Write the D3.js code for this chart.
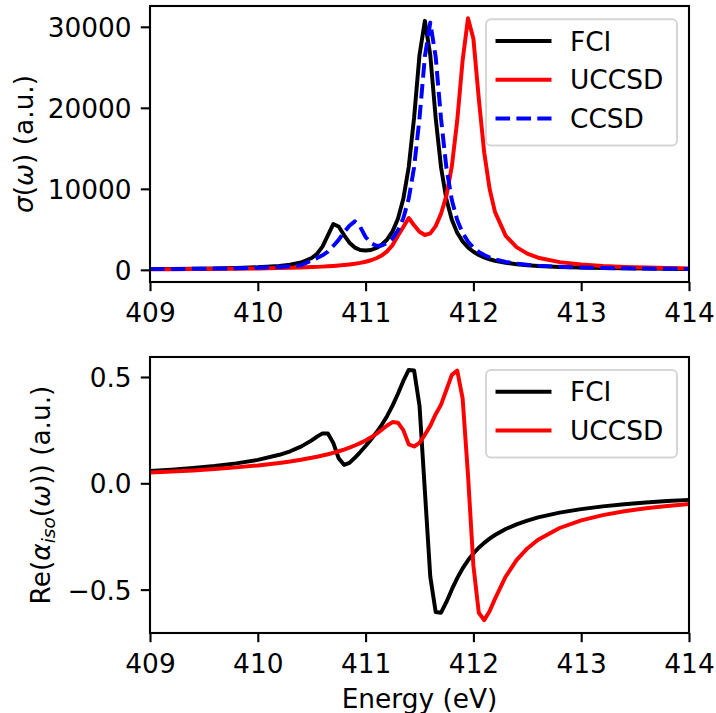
<!DOCTYPE html>
<html>
<head>
<meta charset="utf-8">
<script src="https://cdn.jsdelivr.net/npm/d3@7"></script>
<style>
  body { margin: 0; background: #fff; }
  svg text { font-family: "DejaVu Sans", sans-serif; }
</style>
</head>
<body>
<svg id="chart" width="716" height="713"></svg>
<script>
'use strict';

// photon energy grid (eV), shared by all curves
const energy = [409.0, 409.2, 409.4, 409.6, 409.8, 410.0, 410.2, 410.3, 410.4, 410.5,
  410.55, 410.6, 410.65, 410.7, 410.75, 410.8, 410.85, 410.9, 410.95, 411.0,
  411.05, 411.1, 411.15, 411.2, 411.25, 411.3, 411.35, 411.4, 411.45, 411.5,
  411.55, 411.6, 411.65, 411.7, 411.75, 411.8, 411.85, 411.9, 411.95, 412.0,
  412.05, 412.1, 412.15, 412.2, 412.3, 412.4, 412.5, 412.6, 412.8, 413.0,
  413.2, 413.4, 413.6, 413.8, 414.0];

// cross section sigma(w), a.u.
const sigmaFCI = [94, 113, 139, 174, 229, 316, 481, 634, 902, 1458,
  1991, 2873, 4246, 5640, 5350, 4300, 3350, 2750, 2450, 2400,
  2450, 2700, 3100, 3750, 4749, 6309, 8765, 12698, 18804, 26521,
  30739, 26500, 18761, 12631, 8671, 6183, 4584, 3511, 2768, 2234,
  1838, 1539, 1305, 1121, 870, 690, 570, 480, 360, 280,
  225, 185, 155, 130, 110];
const sigmaUCCSD = [73, 85, 99, 118, 142, 176, 222, 253, 291, 339,
  367, 400, 437, 482, 532, 593, 666, 753, 863, 1003,
  1186, 1433, 1779, 2286, 3056, 4207, 5300, 6400, 5500, 4700,
  4300, 4500, 5400, 6940, 9154, 12772, 18424, 25850, 31064, 28527,
  21134, 14508, 10020, 7151, 4200, 2800, 2000, 1500, 950, 650,
  470, 360, 280, 220, 180];
const sigmaCCSD = [87, 103, 125, 154, 196, 259, 363, 444, 561, 1150,
  1450, 1800, 2250, 2950, 3700, 4650, 5450, 5980, 5311, 4057,
  3276, 2972, 3005, 3309, 3896, 4858, 6368, 8777, 12660, 18704,
  26347, 30523, 26312, 18633, 12548, 8617, 6147, 4560, 3493, 2755,
  2224, 1830, 1532, 1301, 990, 770, 625, 520, 380, 290,
  230, 190, 160, 135, 115];

// real part of the isotropic polarizability, a.u.
const reFCI = [0.0574, 0.0639, 0.0716, 0.0813, 0.0937, 0.1103, 0.1342, 0.1507, 0.1725, 0.2018,
  0.2193, 0.2346, 0.2341, 0.1901, 0.1179, 0.0867, 0.0961, 0.1199, 0.1471, 0.1757,
  0.2059, 0.2386, 0.2751, 0.3169, 0.3653, 0.421, 0.4814, 0.5332, 0.5305, 0.3649,
  -0.0369, -0.439, -0.605, -0.6086, -0.558, -0.4993, -0.4459, -0.4003, -0.3621, -0.33,
  -0.303, -0.28, -0.2602, -0.2431, -0.215, -0.1929, -0.1751, -0.1605, -0.1379, -0.1213,
  -0.1086, -0.0985, -0.0904, -0.0836, -0.0779];
const reUCCSD = [0.0505, 0.0552, 0.0606, 0.067, 0.0748, 0.084, 0.0958, 0.1027, 0.1107, 0.1199,
  0.1251, 0.1307, 0.1367, 0.1434, 0.1507, 0.1587, 0.1677, 0.1777, 0.1889, 0.2017,
  0.2162, 0.2328, 0.2518, 0.272, 0.288, 0.285, 0.25, 0.183, 0.173, 0.19,
  0.228, 0.27, 0.325, 0.37, 0.44, 0.51, 0.53, 0.3999, 0.0387, -0.3872,
  -0.6088, -0.6433, -0.602, -0.5436, -0.4382, -0.3615, -0.3064, -0.2657, -0.2102, -0.1745,
  -0.1495, -0.1313, -0.1173, -0.1063, -0.0973];

const xTicks = [409, 410, 411, 412, 413, 414];
const sigmaTicks = [0, 10000, 20000, 30000];
const reTicks = [-0.5, 0.0, 0.5];

const FONT = 26.4;        // 10pt at ~190 dpi
const LW = 3.96;          // 1.5pt
const TICK = 9.2;
const DASH = '14.6,6.3';

const svg = d3.select('#chart');
svg.append('rect').attr('width', 716).attr('height', 713).attr('fill', '#fff');

const x = d3.scaleLinear().domain([409, 414]).range([150, 689]);

function drawPanel(id, top, bottom, yDomain, yTicks, yFmt, series, legendBox) {
    const y = d3.scaleLinear().domain(yDomain).range([bottom, top]);
    const g = svg.append('g');

    g.append('clipPath').attr('id', 'clip-' + id)
      .append('rect')
        .attr('x', 150).attr('y', top)
        .attr('width', 539).attr('height', bottom - top);

    const line = d3.line()
        .x((d, i) => x(energy[i]))
        .y(d => y(d));

    const curves = g.append('g').attr('clip-path', `url(#clip-${id})`);
    series.forEach(s => {
        curves.append('path')
            .attr('d', line(s.values))
            .attr('fill', 'none')
            .attr('stroke', s.color)
            .attr('stroke-width', LW)
            .attr('stroke-linejoin', 'round')
            .attr('stroke-dasharray', s.dash ? DASH : null);
    });

    // frame
    g.append('rect')
        .attr('x', 150).attr('y', top)
        .attr('width', 539).attr('height', bottom - top)
        .attr('fill', 'none').attr('stroke', '#000').attr('stroke-width', 2.1);

    const gx = g.append('g')
        .attr('transform', `translate(0,${bottom})`)
        .call(d3.axisBottom(x).tickValues(xTicks).tickFormat(d3.format('d'))
            .tickSize(TICK).tickPadding(TICK).tickSizeOuter(0));
    const gy = g.append('g')
        .attr('transform', 'translate(150,0)')
        .call(d3.axisLeft(y).tickValues(yTicks).tickFormat(yFmt)
            .tickSize(TICK).tickPadding(TICK).tickSizeOuter(0));

    [gx, gy].forEach(a => {
        a.select('.domain').remove();
        a.attr('font-family', '"DejaVu Sans", sans-serif').attr('font-size', FONT);
        a.selectAll('.tick line').attr('stroke', '#000').attr('stroke-width', 2.1);
        a.selectAll('.tick text').attr('fill', '#000');
    });
    gx.selectAll('.tick text').attr('dy', '0.82em');
    gy.selectAll('.tick text').attr('dy', '0.36em');

    // legend
    const lg = g.append('g');
    lg.append('rect')
        .attr('x', legendBox.x).attr('y', legendBox.y)
        .attr('width', 191).attr('height', 38.7 * series.length + 10)
        .attr('rx', 5)
        .attr('fill', '#fff').attr('fill-opacity', 0.8)
        .attr('stroke', '#d6d6d6').attr('stroke-width', 2);
    series.forEach((s, i) => {
        const cy = legendBox.y + 21.7 + i * 38.7;
        lg.append('line')
            .attr('x1', s.dash ? 495.5 : 497.5).attr('x2', s.dash ? 551.5 : 549.5)
            .attr('y1', cy).attr('y2', cy)
            .attr('stroke', s.color).attr('stroke-width', LW)
            .attr('stroke-linecap', s.dash ? 'butt' : 'square')
            .attr('stroke-dasharray', s.dash ? DASH : null);
        lg.append('text')
            .attr('x', 570).attr('y', cy + 9.6)
            .attr('font-size', FONT)
            .text(s.name);
    });
    return g;
}

drawPanel('top', 6, 282, [-1500, 32570], sigmaTicks, d3.format('d'), [
    { name: 'FCI', values: sigmaFCI, color: '#000000' },
    { name: 'UCCSD', values: sigmaUCCSD, color: '#ff0000' },
    { name: 'CCSD', values: sigmaCCSD, color: '#0000ff', dash: true }
], { x: 486, y: 19.3 });

drawPanel('bot', 357, 633, [-0.704, 0.594], reTicks, d3.format('.1f'), [
    { name: 'FCI', values: reFCI, color: '#000000' },
    { name: 'UCCSD', values: reUCCSD, color: '#ff0000' }
], { x: 486, y: 370 });

// axis labels
const yl1 = svg.append('text')
    .attr('transform', 'translate(32.7,144) rotate(-90)')
    .attr('text-anchor', 'middle')
    .attr('font-size', FONT);
yl1.append('tspan').attr('font-style', 'italic').text('σ');
yl1.append('tspan').text('(');
yl1.append('tspan').attr('font-style', 'italic').text('ω');
yl1.append('tspan').text(') (a.u.)');

const yl2 = svg.append('text')
    .attr('transform', 'translate(50,495) rotate(-90)')
    .attr('text-anchor', 'middle')
    .attr('font-size', FONT);
yl2.append('tspan').text('Re(');
yl2.append('tspan').attr('font-style', 'italic').text('α');
yl2.append('tspan').attr('font-style', 'italic').attr('font-size', FONT * 0.7)
    .attr('dy', 5).text('iso');
yl2.append('tspan').attr('dy', -5).text('(');
yl2.append('tspan').attr('font-style', 'italic').text('ω');
yl2.append('tspan').text(')) (a.u.)');

svg.append('text')
    .attr('x', 419.5).attr('y', 708)
    .attr('text-anchor', 'middle')
    .attr('font-size', FONT)
    .text('Energy (eV)');
</script>
</body>
</html>
